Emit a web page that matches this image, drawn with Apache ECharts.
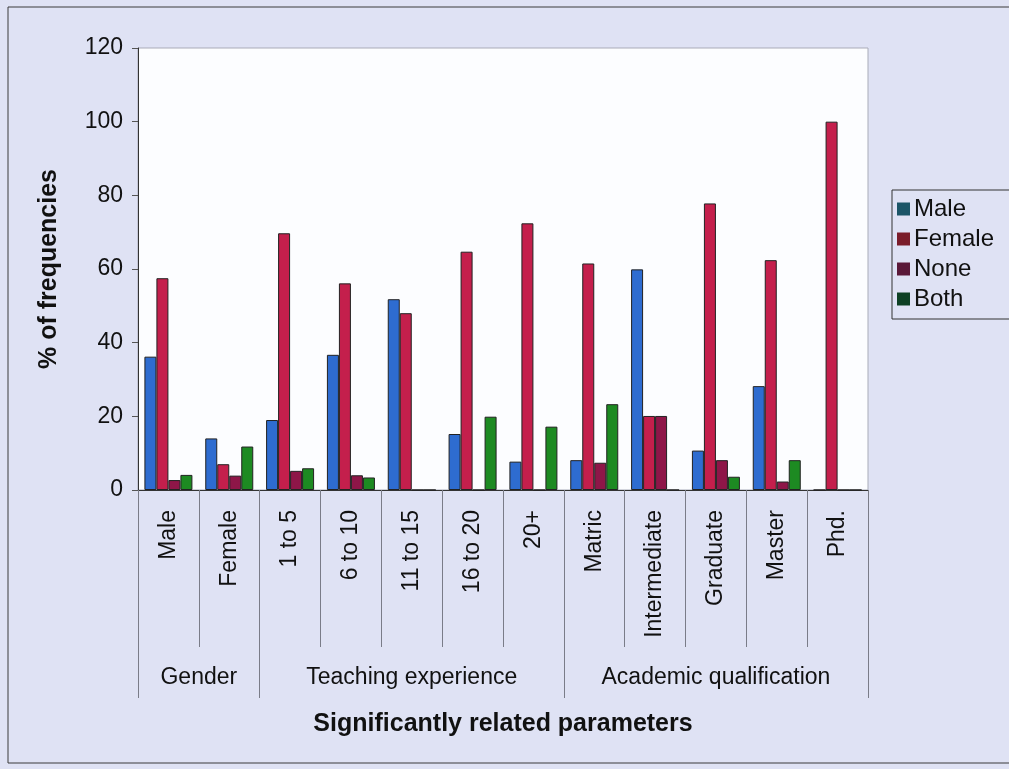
<!DOCTYPE html>
<html>
<head>
<meta charset="utf-8">
<script src="https://cdn.jsdelivr.net/npm/echarts@6/dist/echarts.min.js"></script>
<style>
  html, body { margin: 0; padding: 0; background: #e0e3f4; }
  #chart { width: 1009px; height: 769px; }
</style>
</head>
<body>
<div id="chart"></div>
<script>
const categories = ['Male', 'Female', '1 to 5', '6 to 10', '11 to 15', '16 to 20', '20+', 'Matric', 'Intermediate', 'Graduate', 'Master', 'Phd.'];
const groups = ['Gender', 'Teaching experience', 'Academic qualification'];
const groupSizes = [2, 5, 5];
const seriesNames = ['Male', 'Female', 'None', 'Both'];
const maleValues = [36.2, 14, 19, 36.7, 51.8, 15.2, 7.7, 8.1, 59.9, 10.7, 28.2, 0];
const femaleValues = [57.5, 7, 69.7, 56.1, 48, 64.7, 72.4, 61.5, 20.1, 77.8, 62.4, 100];
const noneValues = [2.7, 3.9, 5.2, 4, 0, 0, 0, 7.4, 20.1, 8.1, 2.3, 0];
const bothValues = [4.1, 11.8, 5.9, 3.4, 0, 19.9, 17.2, 23.3, 0, 3.6, 8.1, 0];
const yTicks = [0, 20, 40, 60, 80, 100, 120];

const barColors = ['#2e6cd0', '#c41f4c', '#8e1648', '#1d8a22'];
const legendColors = ['#1c5567', '#7a1c2a', '#5a1838', '#0e4024'];

// group boundaries and centres derived from group sizes
const groupBounds = [0];
groupSizes.forEach(s => groupBounds.push(groupBounds[groupBounds.length - 1] + s));
const groupCenters = groupSizes.map((s, i) => groupBounds[i] + s / 2);

const FONT = "'Liberation Sans', Arial, sans-serif";
const valuesList = [maleValues, femaleValues, noneValues, bothValues];

const chart = echarts.init(document.getElementById('chart'), null, { renderer: 'canvas' });
chart.setOption({
  backgroundColor: '#dfe2f4',
  animation: false,
  textStyle: { fontFamily: FONT },
  graphic: [{
    type: 'rect',
    shape: { x: 8, y: 7, width: 1010, height: 756 },
    style: { fill: 'none', stroke: '#3a3a3a', lineWidth: 1 },
    silent: true, z: -1
  }],
  grid: {
    left: 138, top: 48, right: 141, bottom: 279,
    show: true, backgroundColor: '#fcfdff', borderColor: '#a9abb8', borderWidth: 1
  },
  legend: {
    orient: 'vertical',
    left: 892, top: 190,
    itemWidth: 13, itemHeight: 13, itemGap: 2,
    padding: [5, 24, 6, 5],
    borderColor: '#333', borderWidth: 1,
    backgroundColor: 'transparent',
    textStyle: { fontFamily: FONT, fontSize: 24, color: '#111', lineHeight: 28, padding: [0, 0, 0, -1] },
    data: seriesNames.map((n, i) => ({ name: n, icon: 'rect', itemStyle: { color: legendColors[i], borderWidth: 0 } }))
  },
  xAxis: [{
    type: 'category',
    data: categories,
    boundaryGap: true,
    axisLine: { show: true, lineStyle: { color: '#333', width: 1 } },
    axisTick: { show: true, interval: 0, length: 157, lineStyle: { color: '#7a7c88' } },
    axisLabel: { interval: 0, rotate: 90, margin: 20, fontSize: 23, color: '#111', fontFamily: FONT },
    splitLine: { show: false }
  }, {
    type: 'value',
    position: 'bottom',
    min: 0, max: categories.length,
    axisLine: { show: false },
    splitLine: { show: false },
    axisTick: { show: true, customValues: groupBounds, length: 208, lineStyle: { color: '#7a7c88' } },
    axisLabel: {
      show: true, customValues: groupCenters, margin: 176, fontSize: 23, color: '#111', fontFamily: FONT,
      formatter: v => groups[groupCenters.indexOf(v)] || ''
    },
    name: 'Significantly related parameters',
    nameLocation: 'middle',
    nameGap: 222,
    nameTextStyle: { fontSize: 25, fontWeight: 'bold', color: '#111', fontFamily: FONT }
  }],
  yAxis: {
    type: 'value',
    min: yTicks[0], max: yTicks[yTicks.length - 1], interval: 20,
    axisLine: { show: true, lineStyle: { color: '#333', width: 1 } },
    axisTick: { show: true, length: 6, lineStyle: { color: '#555' } },
    axisLabel: { fontSize: 23, color: '#111', margin: 15, fontFamily: FONT },
    splitLine: { show: false },
    name: '% of frequencies',
    nameLocation: 'middle',
    nameGap: 76,
    nameTextStyle: { fontSize: 25, fontWeight: 'bold', color: '#111', fontFamily: FONT }
  },
  series: seriesNames.map((n, i) => ({
    name: n,
    type: 'bar',
    data: valuesList[i],
    barWidth: 12,
    barGap: '0%',
    itemStyle: { color: barColors[i], borderColor: '#222', borderWidth: 1 }
  }))
});
</script>
</body>
</html>
